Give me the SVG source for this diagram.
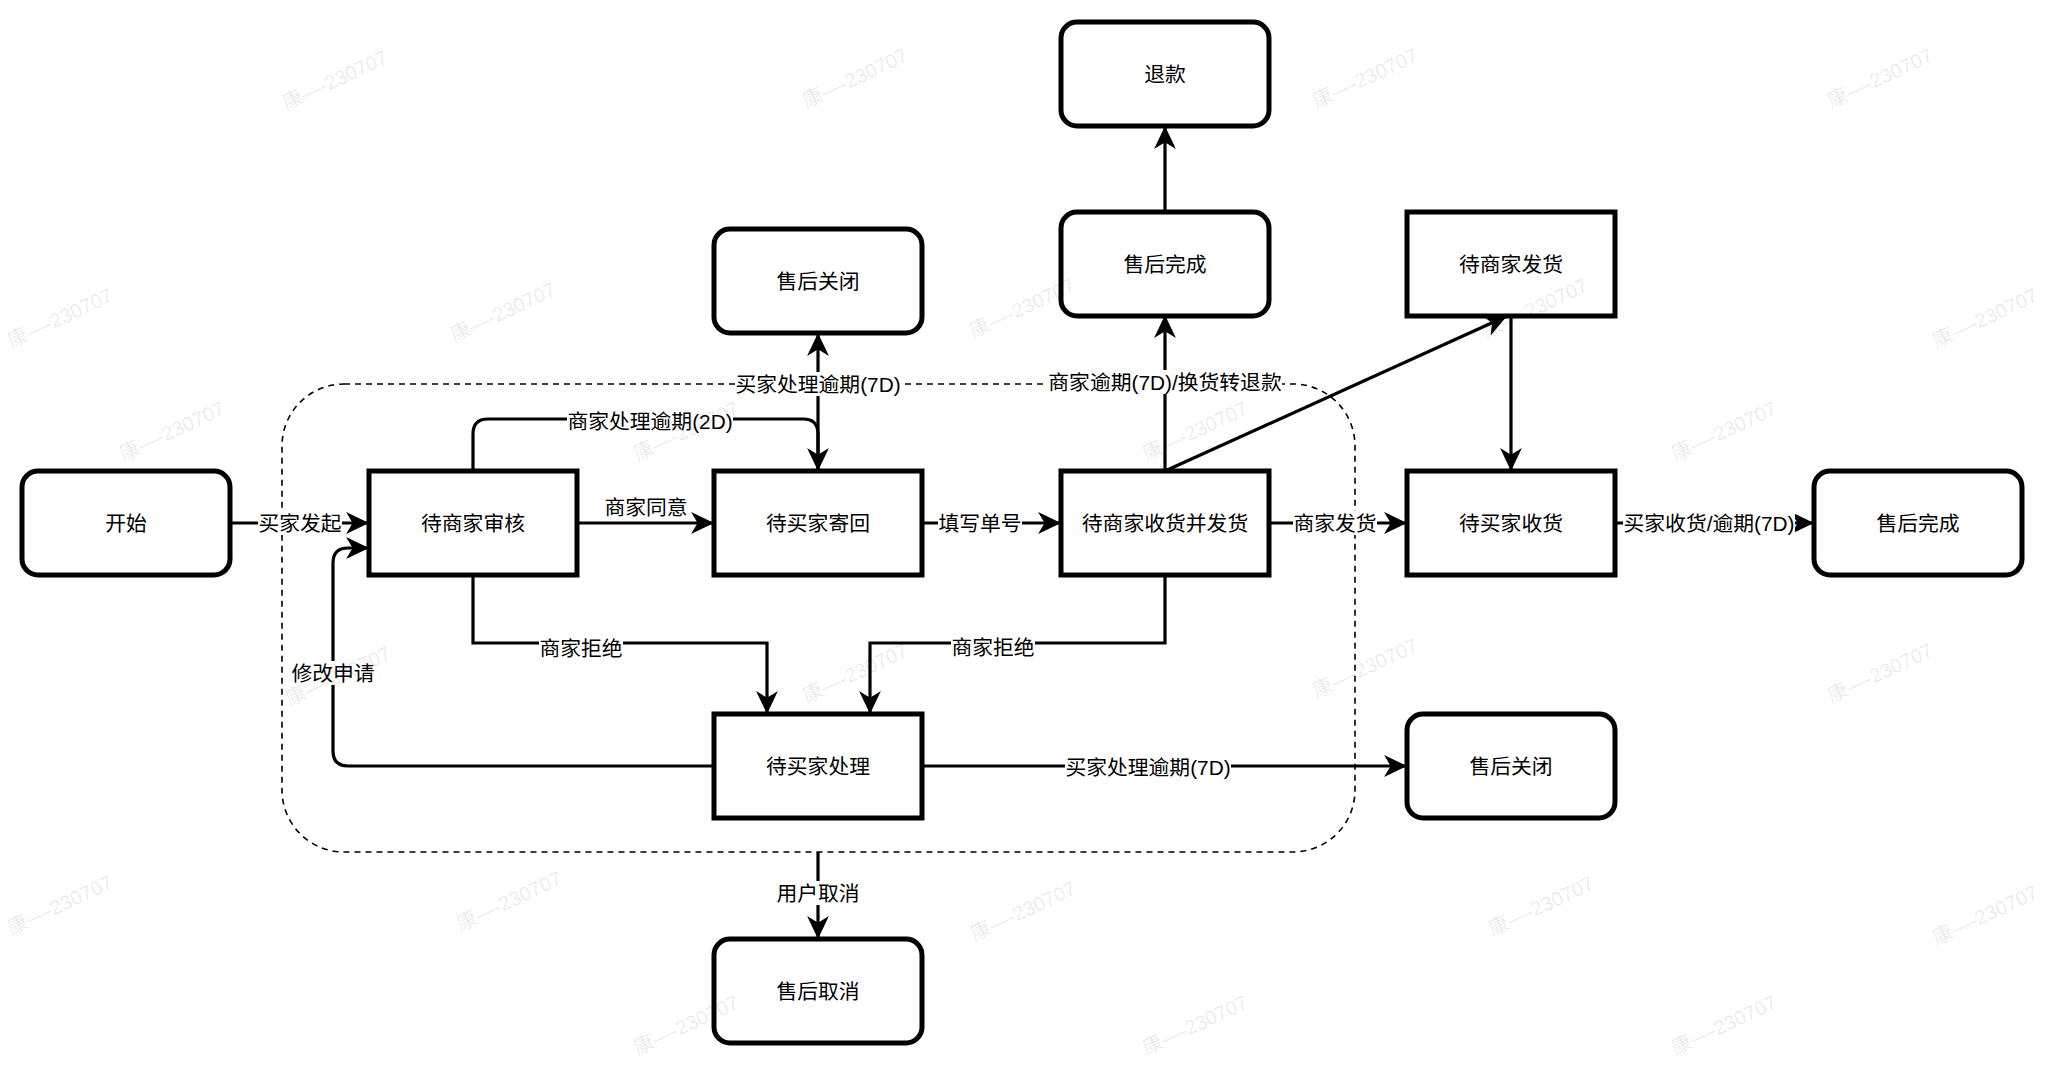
<svg xmlns="http://www.w3.org/2000/svg" width="2048" height="1068" viewBox="0 0 2048 1068">
<style>
.node{fill:#ffffff;stroke:#000000;stroke-width:5}
.lbl{font-family:"Liberation Sans","Noto Sans CJK SC",sans-serif;font-size:20.8px;fill:#000000;text-anchor:middle;dominant-baseline:central}
.edge{fill:none;stroke:#000000;stroke-width:3.2}
.arr{marker-end:url(#arrow)}
.bg{fill:#ffffff;stroke:none}
.frame{fill:none;stroke:#000000;stroke-width:1.6;stroke-dasharray:6 5}
.wm{font-family:"Liberation Sans","Noto Sans CJK SC",sans-serif;font-size:20px;fill:#000000;fill-opacity:0.09;text-anchor:middle;dominant-baseline:central}
</style>
<defs>
<marker id="arrow" markerUnits="userSpaceOnUse" markerWidth="24" markerHeight="24" viewBox="0 0 22 22" refX="21" refY="11" orient="auto">
<path d="M0,1 L21,11 L0,21 L6,11 Z" fill="#000000"/>
</marker>
</defs>
<rect width="2048" height="1068" fill="#ffffff"/>

<rect id="group-frame" class="frame" x="282" y="384" width="1073" height="468" rx="62" ry="62"/>

<g id="connectors">
<path class="edge arr" d="M231,523 H369"/>
<path class="edge arr" d="M714,766 H348 Q333,766 333,751 V563 Q333,548 348,548 H369"/>
<path class="edge arr" d="M576,523 H714"/>
<path class="edge arr" d="M473,471 V434 Q473,419 488,419 H803 Q818,419 818,434 V471"/>
<path class="edge arr" d="M818,471 V333"/>
<path class="edge arr" d="M922,523 H1061"/>
<path class="edge arr" d="M1165,471 V315"/>
<path class="edge arr" d="M1165,212 V126"/>
<path class="edge arr" d="M1165,471 L1507,316"/>
<path class="edge arr" d="M1511,316 V471"/>
<path class="edge arr" d="M1269,523 H1407"/>
<path class="edge arr" d="M1615,523 H1814"/>
<path class="edge arr" d="M473,575 V643 H767 V714"/>
<path class="edge arr" d="M1165,575 V643 H870 V714"/>
<path class="edge arr" d="M922,766 H1407"/>
<path class="edge arr" d="M818,852 V939"/>

<rect class="bg" x="258" y="511" width="84" height="24"/>
<text class="lbl" x="300" y="523">买家发起</text>
<rect class="bg" x="291" y="661" width="84" height="24"/>
<text class="lbl" x="333" y="673">修改申请</text>
<text class="lbl" x="646" y="507">商家同意</text>
<rect class="bg" x="567" y="409" width="166" height="24"/>
<text class="lbl" x="650" y="421">商家处理逾期(2D)</text>
<rect class="bg" x="735" y="372" width="166" height="24"/>
<text class="lbl" x="818" y="384">买家处理逾期(7D)</text>
<rect class="bg" x="938" y="511" width="84" height="24"/>
<text class="lbl" x="980" y="523">填写单号</text>
<rect class="bg" x="1048" y="370" width="234" height="24"/>
<text class="lbl" x="1165" y="382">商家逾期(7D)/换货转退款</text>
<rect class="bg" x="1293" y="511" width="84" height="24"/>
<text class="lbl" x="1335" y="523">商家发货</text>
<rect class="bg" x="1623" y="511" width="172" height="24"/>
<text class="lbl" x="1709" y="523">买家收货/逾期(7D)</text>
<rect class="bg" x="539" y="636" width="84" height="24"/>
<text class="lbl" x="581" y="648">商家拒绝</text>
<rect class="bg" x="951" y="635" width="84" height="24"/>
<text class="lbl" x="993" y="647">商家拒绝</text>
<rect class="bg" x="1065" y="755" width="166" height="24"/>
<text class="lbl" x="1148" y="767">买家处理逾期(7D)</text>
<rect class="bg" x="776" y="881" width="84" height="24"/>
<text class="lbl" x="818" y="893">用户取消</text>
</g>

<g id="n-start"><rect class="node" x="22" y="471" width="208" height="104" rx="16"/><text class="lbl" x="126" y="523">开始</text></g>
<g id="n-merchant-review"><rect class="node" x="369" y="471" width="208" height="104"/><text class="lbl" x="473" y="523">待商家审核</text></g>
<g id="n-buyer-return"><rect class="node" x="714" y="471" width="208" height="104"/><text class="lbl" x="818" y="523">待买家寄回</text></g>
<g id="n-merchant-receive"><rect class="node" x="1061" y="471" width="208" height="104"/><text class="lbl" x="1165" y="523">待商家收货并发货</text></g>
<g id="n-buyer-receive"><rect class="node" x="1407" y="471" width="208" height="104"/><text class="lbl" x="1511" y="523">待买家收货</text></g>
<g id="n-done-right"><rect class="node" x="1814" y="471" width="208" height="104" rx="16"/><text class="lbl" x="1918" y="523">售后完成</text></g>
<g id="n-closed-top"><rect class="node" x="714" y="229" width="208" height="104" rx="16"/><text class="lbl" x="818" y="281">售后关闭</text></g>
<g id="n-done-top"><rect class="node" x="1061" y="212" width="208" height="104" rx="16"/><text class="lbl" x="1165" y="264">售后完成</text></g>
<g id="n-refund"><rect class="node" x="1061" y="22" width="208" height="104" rx="16"/><text class="lbl" x="1165" y="74">退款</text></g>
<g id="n-merchant-ship"><rect class="node" x="1407" y="212" width="208" height="104"/><text class="lbl" x="1511" y="264">待商家发货</text></g>
<g id="n-buyer-handle"><rect class="node" x="714" y="714" width="208" height="104"/><text class="lbl" x="818" y="766">待买家处理</text></g>
<g id="n-closed-right"><rect class="node" x="1407" y="714" width="208" height="104" rx="16"/><text class="lbl" x="1511" y="766">售后关闭</text></g>
<g id="n-cancel"><rect class="node" x="714" y="939" width="208" height="104" rx="16"/><text class="lbl" x="818" y="991">售后取消</text></g>

<g id="watermark">
<text class="wm" transform="translate(335,80) rotate(-25)">康—-230707</text>
<text class="wm" transform="translate(855,78) rotate(-25)">康—-230707</text>
<text class="wm" transform="translate(1365,78) rotate(-25)">康—-230707</text>
<text class="wm" transform="translate(1880,78) rotate(-25)">康—-230707</text>
<text class="wm" transform="translate(60,318) rotate(-25)">康—-230707</text>
<text class="wm" transform="translate(503,312) rotate(-25)">康—-230707</text>
<text class="wm" transform="translate(1022,308) rotate(-25)">康—-230707</text>
<text class="wm" transform="translate(1535,308) rotate(-25)">康—-230707</text>
<text class="wm" transform="translate(1985,318) rotate(-25)">康—-230707</text>
<text class="wm" transform="translate(172,431) rotate(-25)">康—-230707</text>
<text class="wm" transform="translate(686,431) rotate(-25)">康—-230707</text>
<text class="wm" transform="translate(1195,431) rotate(-25)">康—-230707</text>
<text class="wm" transform="translate(1724,431) rotate(-25)">康—-230707</text>
<text class="wm" transform="translate(338,676) rotate(-25)">康—-230707</text>
<text class="wm" transform="translate(855,673) rotate(-25)">康—-230707</text>
<text class="wm" transform="translate(1365,668) rotate(-25)">康—-230707</text>
<text class="wm" transform="translate(1880,673) rotate(-25)">康—-230707</text>
<text class="wm" transform="translate(60,905) rotate(-25)">康—-230707</text>
<text class="wm" transform="translate(509,901) rotate(-25)">康—-230707</text>
<text class="wm" transform="translate(1023,911) rotate(-25)">康—-230707</text>
<text class="wm" transform="translate(1541,906) rotate(-25)">康—-230707</text>
<text class="wm" transform="translate(1985,915) rotate(-25)">康—-230707</text>
<text class="wm" transform="translate(686,1025) rotate(-25)">康—-230707</text>
<text class="wm" transform="translate(1195,1025) rotate(-25)">康—-230707</text>
<text class="wm" transform="translate(1724,1025) rotate(-25)">康—-230707</text>
</g>
</svg>
